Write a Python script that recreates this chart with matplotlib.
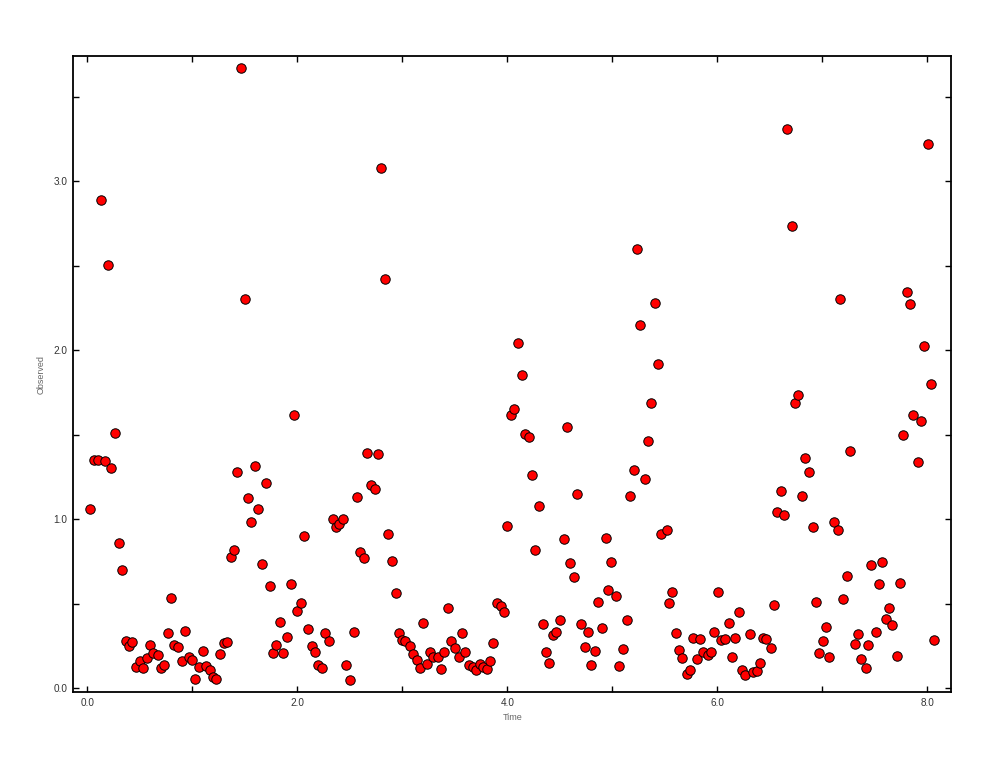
import matplotlib
matplotlib.use("Agg")
import matplotlib.pyplot as plt
from matplotlib.ticker import MultipleLocator, FormatStrFormatter

time = [
    0.029, 0.061, 0.102, 0.133, 0.171, 0.200, 0.229, 0.265, 0.305, 0.333,
    0.369, 0.397, 0.429, 0.464, 0.502, 0.533, 0.571, 0.600, 0.629, 0.670,
    0.702, 0.733, 0.769, 0.797, 0.826, 0.867, 0.905, 0.933, 0.969, 1.000,
    1.029, 1.064, 1.105, 1.133, 1.169, 1.197, 1.229, 1.264, 1.302, 1.333,
    1.369, 1.400, 1.426, 1.467, 1.502, 1.530, 1.562, 1.597, 1.629, 1.664,
    1.702, 1.740, 1.769, 1.800, 1.835, 1.867, 1.905, 1.940, 1.971, 2.000,
    2.035, 2.067, 2.102, 2.140, 2.172, 2.197, 2.235, 2.267, 2.302, 2.343,
    2.369, 2.394, 2.438, 2.467, 2.502, 2.543, 2.569, 2.597, 2.635, 2.661,
    2.702, 2.743, 2.772, 2.800, 2.835, 2.867, 2.902, 2.940, 2.971, 2.997,
    3.029, 3.070, 3.102, 3.140, 3.171, 3.197, 3.235, 3.261, 3.295, 3.340,
    3.369, 3.394, 3.438, 3.464, 3.502, 3.540, 3.571, 3.600, 3.638, 3.670,
    3.705, 3.740, 3.769, 3.804, 3.838, 3.867, 3.902, 3.940, 3.971, 3.997,
    4.035, 4.067, 4.102, 4.140, 4.171, 4.203, 4.238, 4.264, 4.302, 4.343,
    4.371, 4.400, 4.438, 4.467, 4.505, 4.540, 4.569, 4.600, 4.635, 4.664,
    4.705, 4.743, 4.772, 4.797, 4.835, 4.867, 4.902, 4.940, 4.959, 4.990,
    5.035, 5.067, 5.102, 5.143, 5.171, 5.207, 5.235, 5.267, 5.311, 5.343,
    5.369, 5.407, 5.438, 5.464, 5.518, 5.540, 5.569, 5.610, 5.638, 5.667,
    5.714, 5.743, 5.769, 5.810, 5.838, 5.867, 5.911, 5.943, 5.971, 6.007,
    6.038, 6.070, 6.114, 6.143, 6.171, 6.210, 6.238, 6.267, 6.314, 6.343,
    6.375, 6.410, 6.435, 6.467, 6.514, 6.540, 6.571, 6.610, 6.635, 6.664,
    6.711, 6.740, 6.771, 6.810, 6.835, 6.870, 6.911, 6.943, 6.971, 7.007,
    7.035, 7.067, 7.111, 7.146, 7.169, 7.202, 7.238, 7.267, 7.310, 7.343,
    7.368, 7.413, 7.435, 7.464, 7.511, 7.540, 7.571, 7.610, 7.635, 7.667,
    7.714, 7.743, 7.771, 7.807, 7.838, 7.867, 7.914, 7.943, 7.968, 8.007,
    8.038, 8.064,
]

observed = [
    1.059, 1.349, 1.349, 2.888, 1.343, 2.503, 1.302, 1.508, 0.858, 0.698,
    0.280, 0.252, 0.272, 0.124, 0.160, 0.120, 0.179, 0.254, 0.211, 0.195,
    0.120, 0.136, 0.325, 0.533, 0.254, 0.243, 0.160, 0.339, 0.185, 0.166,
    0.053, 0.124, 0.219, 0.132, 0.108, 0.069, 0.053, 0.201, 0.266, 0.272,
    0.775, 0.817, 1.278, 3.669, 2.302, 1.124, 0.982, 1.314, 1.061, 0.735,
    1.213, 0.605, 0.207, 0.254, 0.390, 0.207, 0.304, 0.617, 1.615, 0.457,
    0.505, 0.899, 0.351, 0.250, 0.213, 0.138, 0.120, 0.325, 0.278, 1.002,
    0.953, 0.974, 1.002, 0.138, 0.047, 0.331, 1.132, 0.807, 0.769, 1.392,
    1.203, 1.179, 1.386, 3.077, 2.420, 0.911, 0.751, 0.564, 0.325, 0.288,
    0.280, 0.249, 0.203, 0.166, 0.120, 0.385, 0.144, 0.215, 0.187, 0.187,
    0.115, 0.213, 0.473, 0.280, 0.240, 0.185, 0.325, 0.215, 0.138, 0.126,
    0.107, 0.146, 0.124, 0.112, 0.162, 0.266, 0.507, 0.487, 0.451, 0.959,
    1.619, 1.653, 2.043, 1.854, 1.507, 1.485, 1.260, 0.817, 1.077, 0.379,
    0.213, 0.148, 0.314, 0.331, 0.404, 0.882, 1.544, 0.740, 0.657, 1.148,
    0.379, 0.244, 0.331, 0.138, 0.221, 0.511, 0.357, 0.888, 0.582, 0.746,
    0.544, 0.132, 0.233, 0.404, 1.136, 1.290, 2.598, 2.148, 1.237, 1.462,
    1.686, 2.278, 1.919, 0.911, 0.935, 0.505, 0.568, 0.325, 0.227, 0.179,
    0.083, 0.108, 0.296, 0.172, 0.292, 0.215, 0.195, 0.215, 0.331, 0.570,
    0.284, 0.292, 0.385, 0.185, 0.296, 0.451, 0.108, 0.079, 0.320, 0.095,
    0.101, 0.148, 0.299, 0.292, 0.238, 0.491, 1.041, 1.167, 1.024, 3.308,
    2.734, 1.686, 1.735, 1.136, 1.361, 1.278, 0.953, 0.511, 0.207, 0.280,
    0.363, 0.185, 0.982, 0.935, 2.304, 0.528, 0.663, 1.402, 0.260, 0.320,
    0.172, 0.120, 0.254, 0.730, 0.333, 0.615, 0.746, 0.410, 0.473, 0.373,
    0.191, 0.623, 1.497, 2.343, 2.272, 1.617, 1.339, 1.582, 2.025, 3.219,
    1.799, 0.286,
]

x_label = "Time"
y_label = "Observed"

plt.rcParams['font.family'] = ['Liberation Sans', 'DejaVu Sans']

fig = plt.figure(figsize=(10.01, 7.60), dpi=100)
ax = fig.add_axes([73.3 / 1001, 1 - 692 / 760, (951 - 73.3) / 1001, (692 - 56) / 760])

ax.plot(time, observed, linestyle='none', marker='o', markersize=6.8,
        markerfacecolor='#ff0000', markeredgecolor='#000000', markeredgewidth=0.7)

ax.set_xlim(-0.133, 8.226)
ax.set_ylim(-0.022, 3.741)

ax.xaxis.set_major_locator(MultipleLocator(2.0))
ax.xaxis.set_minor_locator(MultipleLocator(1.0))
ax.yaxis.set_major_locator(MultipleLocator(1.0))
ax.yaxis.set_minor_locator(MultipleLocator(0.5))
ax.xaxis.set_major_formatter(FormatStrFormatter('%.1f'))
ax.yaxis.set_major_formatter(FormatStrFormatter('%.1f'))

for side in ['left', 'right', 'top', 'bottom']:
    ax.spines[side].set_linewidth(1.3)
    ax.spines[side].set_color('black')

ax.tick_params(which='both', direction='in', top=True, right=True,
               length=4, width=1.0, color='black')
ax.tick_params(which='major', labelsize=7.2, labelcolor='#333333', pad=4)

ax.set_xlabel(x_label, fontsize=6.5, color='#666666', labelpad=4)
ax.set_ylabel(y_label, fontsize=6.5, color='#666666', labelpad=6)

fig.savefig('out.png', dpi=100)
